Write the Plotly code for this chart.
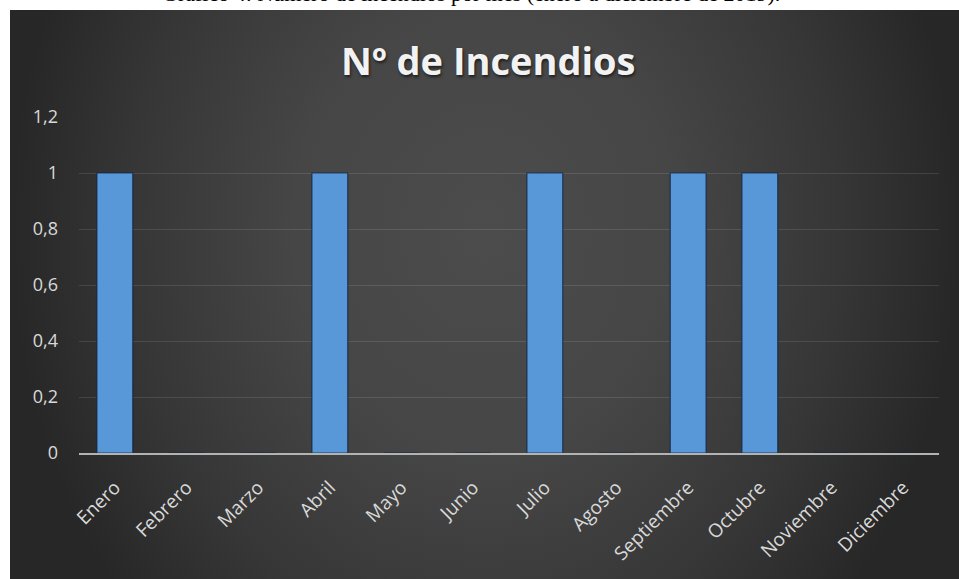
import plotly.graph_objects as go

# Monthly fire counts
meses = ["Enero", "Febrero", "Marzo", "Abril", "Mayo", "Junio", "Julio",
         "Agosto", "Septiembre", "Octubre", "Noviembre", "Diciembre"]
incendios = [1, 0, 0, 1, 0, 0, 1, 0, 1, 1, 0, 0]
y_ticks = [0, 0.2, 0.4, 0.6, 0.8, 1.0, 1.2]

W, H = 959, 579

# Chart panel extent (pixel frame on a hidden full-figure axis pair)
panel_x = [10, 959, 959, 10, 10]
panel_y = [-340, -340, 800, 800, -340]

fig = go.Figure()

# Dark panel with a radial shading, lighter towards the middle
fig.add_trace(go.Scatter(
    x=panel_x, y=panel_y, xaxis="x", yaxis="y",
    mode="lines", line=dict(width=0), fill="toself",
    fillgradient=dict(type="radial",
                      colorscale=[[0, "#4c4c4c"], [0.4, "#464646"],
                                  [0.75, "#363636"], [1, "#272727"]]),
    hoverinfo="skip", showlegend=False,
))

fig.add_trace(go.Bar(
    x=meses, y=incendios, xaxis="x2", yaxis="y2",
    marker=dict(color="#5898d8", line=dict(color="rgba(15,35,65,0.75)", width=1.2)),
    showlegend=False,
))

x0, x1 = 79 / W, 939 / W
y0, y1 = 1 - 453 / H, 1 - 117 / H

fig.update_layout(
    width=W, height=H,
    margin=dict(l=0, r=0, t=0, b=0),
    paper_bgcolor="white",
    plot_bgcolor="rgba(0,0,0,0)",
    separators=",.",
    bargap=0.5,
    xaxis=dict(domain=[0, 1], range=[0, W], visible=False, fixedrange=True),
    yaxis=dict(domain=[0, 1], range=[H, 0], visible=False, fixedrange=True),
    xaxis2=dict(
        domain=[x0, x1], anchor="y2",
        showgrid=False, showline=True, linecolor="#b3b3b3", linewidth=2,
        tickangle=-45, ticks="", ticklabelstandoff=14,
        tickfont=dict(family="Open Sans", size=19, color="#d9d9d9"),
        automargin=False,
    ),
    yaxis2=dict(
        domain=[y0, y1], anchor="x2", range=[0, 1.2],
        tickvals=y_ticks, showgrid=True, gridcolor="rgba(255,255,255,0.11)",
        gridwidth=1, zeroline=False, showline=False, ticks="",
        ticklabelstandoff=20,
        tickfont=dict(family="Open Sans", size=18, color="#d9d9d9"),
        automargin=False,
    ),
    shapes=[dict(type="rect", xref="paper", yref="paper",
                 x0=0, x1=1, y0=1 - 10 / H, y1=1.0,
                 fillcolor="white", line=dict(width=0), layer="above")],
    annotations=[
        dict(text="<b>Nº de Incendios</b>", xref="paper", yref="paper",
             x=488 / W, y=1 - 60 / H, xanchor="center", yanchor="middle",
             showarrow=False,
             font=dict(family="Open Sans", size=38, color="#f2f2f2",
                       shadow="1px 2px 3px rgba(0,0,0,0.6)")),
        dict(text="Gráfico 4: Número de incendios por mes (enero a diciembre de 2019).",
             xref="paper", yref="paper", x=160 / W, y=1 - 8 / H,
             xanchor="left", yanchor="bottom", showarrow=False,
             font=dict(family="Liberation Serif", size=22, color="black")),
    ],
)

fig.write_html("out.html")
